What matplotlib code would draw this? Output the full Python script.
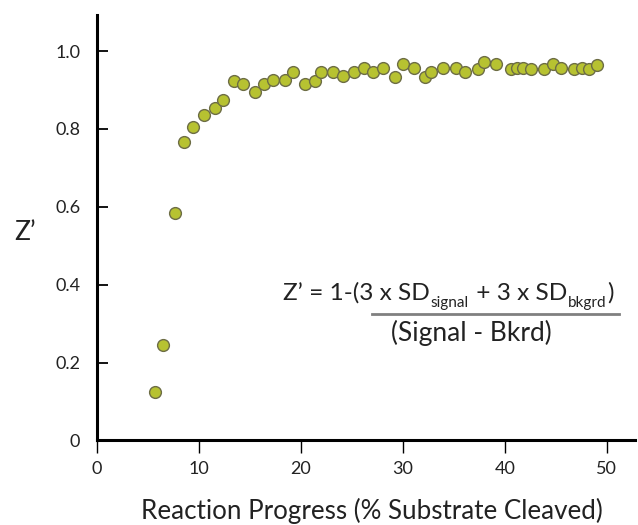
import numpy as np
import matplotlib
matplotlib.use('Agg')
import matplotlib.pyplot as plt
from matplotlib.lines import Line2D

plt.rcParams['font.family'] = ['Lato', 'DejaVu Sans']

# --- data ---
progress = [5.7, 6.5, 7.65, 8.55, 9.4, 10.5, 11.55, 12.35, 13.4, 14.3,
            15.5, 16.4, 17.25, 18.4, 19.2, 20.4, 21.35, 22.0, 23.15, 24.1,
            25.2, 26.15, 27.1, 28.05, 29.25, 30.05, 31.1, 32.2, 32.8, 33.9,
            35.2, 36.05, 37.4, 38.0, 39.15, 40.6, 41.2, 41.8, 42.6, 43.8,
            44.75, 45.5, 46.8, 47.6, 48.3, 49.05]
z_prime = [0.125, 0.245, 0.585, 0.766, 0.806, 0.836, 0.855, 0.874, 0.924, 0.915,
           0.894, 0.915, 0.925, 0.925, 0.946, 0.915, 0.924, 0.945, 0.945, 0.935,
           0.945, 0.956, 0.945, 0.956, 0.934, 0.966, 0.956, 0.934, 0.945, 0.956,
           0.956, 0.945, 0.955, 0.972, 0.966, 0.954, 0.957, 0.957, 0.954, 0.954,
           0.966, 0.956, 0.954, 0.956, 0.954, 0.963]

x_ticks = [0, 10, 20, 30, 40, 50]
y_ticks = [0, 0.2, 0.4, 0.6, 0.8, 1.0]
y_ticklabels = ['0', '0.2', '0.4', '0.6', '0.8', '1.0']

TXT = '#222222'

# --- plot ---
fig = plt.figure(figsize=(6.38, 5.25), dpi=100)
ax = fig.add_axes([0.152, 0.161, 0.843, 0.81])

ax.scatter(progress, z_prime, s=72, color='#b7c231', edgecolors='#6d6d45',
           linewidths=1.0, zorder=3, clip_on=False)

ax.set_xlim(0, 52.75)
ax.set_ylim(0, 1.092)
ax.set_xticks(x_ticks)
ax.set_yticks(y_ticks)
ax.set_yticklabels(y_ticklabels)

for side in ('top', 'right'):
    ax.spines[side].set_visible(False)
for side in ('left', 'bottom'):
    ax.spines[side].set_linewidth(2.2)
    ax.spines[side].set_color('black')

ax.tick_params(axis='y', direction='in', length=8, width=1.3, labelsize=13,
               pad=12, colors='black', labelcolor=TXT)
ax.tick_params(axis='x', direction='out', length=9, width=1.0, labelsize=13,
               pad=6, colors='black', labelcolor=TXT)

ax.set_xlabel('Reaction Progress (% Substrate Cleaved)', fontsize=18.7,
              color=TXT, va='center')
ax.xaxis.set_label_coords(0.512, -0.166)
ax.set_ylabel('Z\u2019', fontsize=19, rotation=0, color=TXT, va='center')
ax.yaxis.set_label_coords(-0.133, 0.49)

# formula annotation, laid out piece by piece (main text + small subscripts)
pieces = [('Z\u2019 = 1-(3 x SD', 17.6, 0),
          ('signal', 11, -7),
          (' + 3 x SD', 17.6, 0),
          ('bkgrd', 11, -7),
          (')', 17.6, 0)]
renderer = fig.canvas.get_renderer()
x_px = 283
base_px = 525 - 300
for txt, size, dy in pieces:
    t = fig.text(x_px / 638, (base_px + dy) / 525, txt, fontsize=size,
                 color=TXT, ha='left', va='baseline')
    x_px += t.get_window_extent(renderer).width + 1

fig.add_artist(Line2D([372 / 638, 619 / 638], [1 - 314 / 525] * 2,
                      color='#808080', linewidth=2))
fig.text(471 / 638, 1 - 333 / 525, '(Signal - Bkrd)', fontsize=19,
         color=TXT, ha='center', va='center')

plt.savefig('out.png', dpi=100)
